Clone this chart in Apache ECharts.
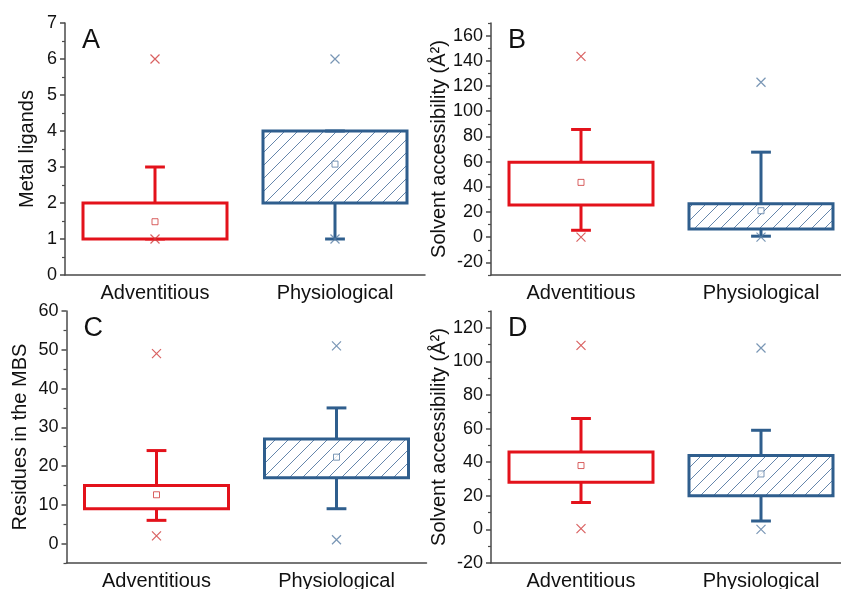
<!DOCTYPE html>
<html>
<head>
<meta charset="UTF-8">
<title>Box plots</title>
<script type="text/javascript" src="https://cdn.jsdelivr.net/npm/echarts@6/dist/echarts.min.js"></script>
</head>
<body style="margin:0;background:#fff;">

<div id="box" style="width:841px;height:589px;"></div>

<script type="text/javascript">

var categories = ['Adventitious', 'Physiological'];

// [lower whisker, Q1, Q3, upper whisker]
var boxA = [[1, 1, 2, 3], [1, 2, 4, 4]];
var meanA = [1.48, 3.08];
var extremesA = [[1, 6], [1, 6]];

var boxB = [[5.5, 25.5, 59.5, 85.5], [0.8, 6.5, 26.5, 67.5]];
var meanB = [43.5, 21];
var extremesB = [[0, 143.5], [0, 123]];

var boxC = [[6, 9, 15, 24], [9, 17, 27, 35]];
var meanC = [12.6, 22.3];
var extremesC = [[2, 49], [1, 51]];

var boxD = [[16, 28, 46, 66], [5, 20, 44, 59]];
var meanD = [38, 33];
var extremesD = [[0.5, 109.5], [0, 108]];

// tick labels / minor ticks of the y axes
var ticksA = [0, 1, 2, 3, 4, 5, 6, 7];
var minorA = [0.5, 1.5, 2.5, 3.5, 4.5, 5.5, 6.5];
var ticksB = [-20, 0, 20, 40, 60, 80, 100, 120, 140, 160];
var minorB = [-30, -10, 10, 30, 50, 70, 90, 110, 130, 150, 170];
var ticksC = [0, 10, 20, 30, 40, 50, 60];
var minorC = [-5, 5, 15, 25, 35, 45, 55];
var ticksD = [-20, 0, 20, 40, 60, 80, 100, 120];
var minorD = [-10, 10, 30, 50, 70, 90, 110, 130];

var FONT = 'Arial, "Liberation Sans", sans-serif';
var AXIS = '#4a4a4a';
var boxColors = ['#e3121b', '#2f5e8d'];
var markColors = ['#cf3a3a', '#587ca3'];

// hatch pattern for the physiological boxes
var tile = document.createElement('canvas');
tile.width = 13; tile.height = 13;
var ctx = tile.getContext('2d');
ctx.strokeStyle = '#6586ab';
ctx.lineWidth = 1;
ctx.beginPath();
ctx.moveTo(-2, 15); ctx.lineTo(15, -2);
ctx.moveTo(-2, 2); ctx.lineTo(2, -2);
ctx.moveTo(11, 15); ctx.lineTo(15, 11);
ctx.stroke();
var hatch = {image: tile, repeat: 'repeat'};

var panels = [
  {letter: 'A', name: 'Metal ligands', left: 65, top: 23, min: 0, max: 7, ticks: ticksA, minor: minorA, nameGap: 28,
   box: boxA, mean: meanA, ext: extremesA},
  {letter: 'B', name: 'Solvent accessibility (Å²)', left: 491, top: 23, min: -30, max: 170, ticks: ticksB, minor: minorB, nameGap: 37,
   box: boxB, mean: meanB, ext: extremesB},
  {letter: 'C', name: 'Residues in the MBS', left: 66.5, top: 311, min: -5, max: 60, ticks: ticksC, minor: minorC, nameGap: 36,
   box: boxC, mean: meanC, ext: extremesC},
  {letter: 'D', name: 'Solvent accessibility (Å²)', left: 491, top: 311, min: -20, max: 130, ticks: ticksD, minor: minorD, nameGap: 37,
   box: boxD, mean: meanD, ext: extremesD}
];

function renderBox(params, api) {
  var c = api.value(0);
  var lw = api.coord([c, api.value(1)]);
  var q1 = api.coord([c, api.value(2)]);
  var q3 = api.coord([c, api.value(3)]);
  var uw = api.coord([c, api.value(4)]);
  var band = api.size([1, 0])[0];
  var half = band * 0.4;
  var cap = band * 0.055;
  var x = q1[0];
  var col = boxColors[c];
  var line = {stroke: col, lineWidth: 3};
  return {
    type: 'group',
    children: [
      {type: 'line', shape: {x1: x, y1: q3[1], x2: x, y2: uw[1]}, style: line},
      {type: 'line', shape: {x1: x - cap, y1: uw[1], x2: x + cap, y2: uw[1]}, style: line},
      {type: 'line', shape: {x1: x, y1: q1[1], x2: x, y2: lw[1]}, style: line},
      {type: 'line', shape: {x1: x - cap, y1: lw[1], x2: x + cap, y2: lw[1]}, style: line},
      {type: 'rect', shape: {x: x - half, y: q3[1], width: half * 2, height: q1[1] - q3[1]},
       style: {fill: c === 1 ? hatch : '#fff', stroke: col, lineWidth: 3}}
    ]
  };
}

var option = {
  animation: false,
  backgroundColor: '#fff',
  title: [],
  grid: [],
  xAxis: [],
  yAxis: [],
  series: []
};

panels.forEach(function (p, i) {
  option.title.push({
    text: p.letter, left: p.left + 17, top: p.top + 4, padding: 0,
    textStyle: {fontFamily: FONT, fontSize: 27, fontWeight: 'normal', color: '#111'}
  });
  option.grid.push({left: p.left, top: p.top, width: 360, height: 252, outerBoundsMode: 'none', containLabel: false});
  option.xAxis.push({
    type: 'category', gridIndex: i, data: categories,
    axisLine: {onZero: false, lineStyle: {color: AXIS, width: 1.5}},
    axisTick: {alignWithLabel: true, length: 5, lineStyle: {color: AXIS, width: 1.5}},
    axisLabel: {fontFamily: FONT, fontSize: 20, color: '#111', margin: 8}
  });
  option.yAxis.push({
    type: 'value', gridIndex: i, min: p.min, max: p.max, position: 'left',
    name: p.name, nameLocation: 'middle', nameGap: p.nameGap,
    nameTextStyle: {fontFamily: FONT, fontSize: 20, color: '#111'},
    axisLine: {show: true, lineStyle: {color: AXIS, width: 1.5}},
    axisTick: {show: true, length: 5, customValues: p.ticks, lineStyle: {color: AXIS, width: 1.5}},
    axisLabel: {fontFamily: FONT, fontSize: 18, color: '#111', margin: 8, customValues: p.ticks},
    splitLine: {show: false}
  });
  option.yAxis.push({
    type: 'value', gridIndex: i, min: p.min, max: p.max, position: 'left',
    axisLine: {show: false},
    axisTick: {show: true, length: 3, customValues: p.minor, lineStyle: {color: AXIS, width: 1.2}},
    axisLabel: {show: false},
    splitLine: {show: false}
  });
  var yIdx = i * 2;
  option.series.push({
    type: 'custom', xAxisIndex: i, yAxisIndex: yIdx,
    renderItem: renderBox,
    encode: {x: 0, y: [1, 2, 3, 4]},
    data: p.box.map(function (b, k) { return [k, b[0], b[1], b[2], b[3]]; })
  });
  var ext = [], mean = [];
  p.ext.forEach(function (e, k) {
    ext.push({value: [k, e[0]], itemStyle: {borderColor: markColors[k]}});
    ext.push({value: [k, e[1]], itemStyle: {borderColor: markColors[k]}});
    mean.push({value: [k, p.mean[k]], itemStyle: {borderColor: markColors[k]}});
  });
  option.series.push({
    type: 'scatter', xAxisIndex: i, yAxisIndex: yIdx,
    symbol: 'path://M0,0L10,10M10,0L0,10', symbolSize: 9,
    itemStyle: {color: 'none', borderWidth: 1.2},
    data: ext
  });
  option.series.push({
    type: 'scatter', xAxisIndex: i, yAxisIndex: yIdx,
    symbol: 'rect', symbolSize: 6,
    itemStyle: {color: '#fff', borderWidth: 1},
    data: mean
  });
});

var mychart = echarts.init(document.getElementById('box'));
mychart.setOption(option);
</script>
</body>
</html>
